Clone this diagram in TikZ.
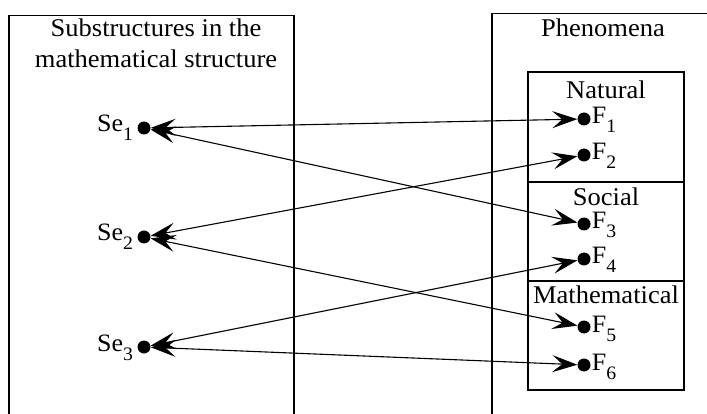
\documentclass[tikz,border=0pt]{standalone}
\usepackage{fontspec}
\setmainfont{Liberation Serif}[FakeStretch=1.04]
\usetikzlibrary{arrows.meta}
\newcommand\lowsub[1]{\raisebox{-9pt}{\fontsize{19}{19}\selectfont #1}}
\begin{document}
\begin{tikzpicture}[x=1pt,y=-1pt,
  dot/.style={circle,fill=black,inner sep=0pt,minimum size=13pt},
  frame/.style={line width=1.8pt},
  inbox/.style={line width=2.2pt},
  tipstyle/.tip={Stealth[length=25pt,width=17pt,inset=10pt]},
  conn/.style={tipstyle-tipstyle, line width=1.1pt},
  title/.style={inner sep=0pt, font=\fontsize{25.5}{31}\selectfont, anchor=base},
  lab/.style={inner sep=0pt, font=\fontsize{25}{28}\selectfont}]
\useasboundingbox (0,0) rectangle (707,414);
\clip (0,0) rectangle (707,414);
% frames
\draw[frame] (9,420) -- (9,15.5) -- (294,15.5) -- (294,420);
\draw[frame] (492,420) -- (492,13.5) -- (715,13.5);
\draw[inbox] (528,72) rectangle (684,390);
\draw[inbox] (528,182) -- (684,182);
\draw[inbox] (528,281) -- (684,281);
% titles
\node[title] (t1) at (156,37) {Substructures in the};
\node[title] (t2) at (156,68) {mathematical structure};
\node[title] (ph) at (603,37) {Phenomena};
\node[title] (nat) at (606,99) {Natural};
\node[title] (soc) at (606,206) {Social};
\node[title] (mat) at (606,303) {Mathematical};
% dots
\node[dot] (se1) at (144,128) {};
\node[dot] (se2) at (144,237) {};
\node[dot] (se3) at (144,347) {};
\node[dot] (f1) at (584,119) {};
\node[dot] (f2) at (584,155) {};
\node[dot] (f3) at (584,224) {};
\node[dot] (f4) at (584,259) {};
\node[dot] (f5) at (584,327) {};
\node[dot] (f6) at (584,365) {};
% labels
\node[lab,anchor=base east] (lse1) at ([xshift=-4pt,yshift=-4pt]se1.west) {Se\lowsub{1}};
\node[lab,anchor=base east] (lse2) at ([xshift=-4pt,yshift=-4pt]se2.west) {Se\lowsub{2}};
\node[lab,anchor=base east] (lse3) at ([xshift=-4pt,yshift=-4pt]se3.west) {Se\lowsub{3}};
\node[lab,anchor=base west] (lf1) at ([xshift=1pt,yshift=-5pt]f1.east) {F\lowsub{1}};
\node[lab,anchor=base west] (lf2) at ([xshift=1pt,yshift=-5pt]f2.east) {F\lowsub{2}};
\node[lab,anchor=base west] (lf3) at ([xshift=1pt,yshift=-5pt]f3.east) {F\lowsub{3}};
\node[lab,anchor=base west] (lf4) at ([xshift=1pt,yshift=-5pt]f4.east) {F\lowsub{4}};
\node[lab,anchor=base west] (lf5) at ([xshift=1pt,yshift=-5pt]f5.east) {F\lowsub{5}};
\node[lab,anchor=base west] (lf6) at ([xshift=1pt,yshift=-5pt]f6.east) {F\lowsub{6}};
% connectors
\draw[conn] (se1) -- (f1);
\draw[conn] (se1) -- (f3);
\draw[conn] (se2) -- (f2);
\draw[conn] (se2) -- (f5);
\draw[conn] (se3) -- (f4);
\draw[conn] (se3) -- (f6);
\end{tikzpicture}
\end{document}
